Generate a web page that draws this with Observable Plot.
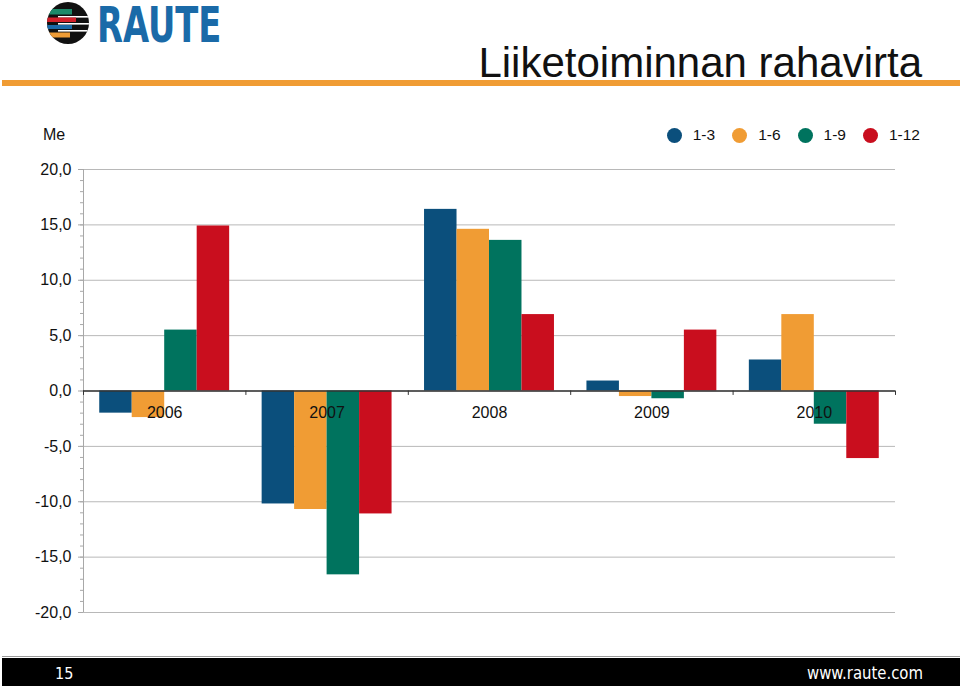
<!DOCTYPE html>
<html>
<head>
<meta charset="utf-8">
<script src="https://cdn.jsdelivr.net/npm/d3@7"></script>
<script src="https://cdn.jsdelivr.net/npm/@observablehq/plot@0.6"></script>
<style>
  html, body { margin: 0; padding: 0; background: #fff; }
  #page { position: relative; width: 960px; height: 686px; overflow: hidden; background: #fff;
          font-family: "Liberation Sans", Arial, sans-serif; color: #111; }
  #header { position: absolute; left: 0; top: 0; }
  #brand { position: absolute; left: 97px; top: -3px; font-family: "DejaVu Sans Condensed", "DejaVu Sans", sans-serif;
           font-weight: bold; font-size: 50px; line-height: 56px; color: #1a6aa8; white-space: nowrap;
           transform: scaleX(0.75); transform-origin: 0 0; }
  #me { position: absolute; left: 43px; top: 126px; font-size: 16px; line-height: 18px; }
  #legend { position: absolute; top: 126px; right: 40px; display: flex; align-items: center; font-size: 15.5px; line-height: 18px; }
  #legend .sw { width: 15px; height: 15px; border-radius: 50%; margin-right: 11px; }
  #legend .lb { margin-right: 17px; }
  #legend .lb:last-child { margin-right: 0; }
  #chart { position: absolute; left: 0; top: 150px; }
  #footer { position: absolute; left: 0; top: 656px; }
</style>
</head>
<body>
<div id="page">
  <svg id="header" width="960" height="100" viewBox="0 0 960 100">
    <defs><clipPath id="logoClip"><circle cx="68" cy="23" r="21"></circle></clipPath></defs>
    <g clip-path="url(#logoClip)">
      <rect x="46" y="1" width="44" height="44" fill="#111"></rect>
      <rect x="58" y="16" width="32" height="1.6" fill="#fff"></rect>
      <rect x="58" y="23" width="32" height="1.6" fill="#fff"></rect>
      <rect x="58" y="30" width="32" height="1.6" fill="#fff"></rect>
      <rect x="46" y="9" width="26" height="5.5" fill="#1d8a6a"></rect>
      <rect x="46" y="17.5" width="30" height="4.5" fill="#d3202a"></rect>
      <rect x="46" y="25" width="26" height="4" fill="#1a6aa8"></rect>
      <rect x="46" y="32.5" width="24" height="5" fill="#ee9c36"></rect>
    </g>
    <rect x="2" y="80" width="958" height="6" fill="#f09c34"></rect>
    <text x="922" y="77" text-anchor="end" font-family="'Liberation Sans', Arial, sans-serif" font-size="42" fill="#111">Liiketoiminnan rahavirta</text>
  </svg>
  <div id="brand">RAUTE</div>
  <div id="me">Me</div>
  <div id="legend"></div>
  <div id="chart"></div>
  <svg id="footer" width="960" height="30" viewBox="0 0 960 30">
    <rect x="2" y="0" width="958" height="1" fill="#9a9a9a"></rect>
    <rect x="2" y="2" width="958" height="28" fill="#000"></rect>
    <text x="55" y="23" font-family="'Liberation Sans Narrow', 'DejaVu Sans Condensed', sans-serif" font-size="16" fill="#fff">15</text>
    <text x="923" y="23" text-anchor="end" font-family="'Liberation Sans Narrow', 'DejaVu Sans Condensed', sans-serif" font-size="17" fill="#fff" textLength="116" lengthAdjust="spacingAndGlyphs">www.raute.com</text>
  </svg>
</div>
<script>
// ---- Data, Me ----
const years = ["2006", "2007", "2008", "2009", "2010"];
const series = ["1-3", "1-6", "1-9", "1-12"];
const colors = ["#0b4f7c", "#f09c34", "#00735e", "#c90e1e"];
const q1_3  = [-2.0, -10.2, 16.4,  0.9,  2.8];
const q1_6  = [-2.4, -10.7, 14.6, -0.5,  6.9];
const q1_9  = [ 5.5, -16.6, 13.6, -0.7, -3.0];
const q1_12 = [14.9, -11.1,  6.9,  5.5, -6.1];
const yTicks = [-20, -15, -10, -5, 0, 5, 10, 15, 20];
const yMinorTicks = d3.range(-20, 21, 1);

// ---- Table built from the arrays ----
const valuesBySeries = [q1_3, q1_6, q1_9, q1_12];
const rows = years.flatMap((year, yi) =>
  series.map((s, si) => ({year, yi, series: s, si, value: valuesBySeries[si][yi]}))
);
// each year occupies 5 slots on a linear x: half-slot gap, 4 bars, half-slot gap
const slotsPerYear = series.length + 1;
const groupStart = yi => yi * slotsPerYear;
const boundaries = d3.range(years.length + 1).map(groupStart);

// ---- Legend ----
const legend = document.getElementById("legend");
series.forEach((s, i) => {
  const sw = document.createElement("span"); sw.className = "sw"; sw.style.background = colors[i];
  const lb = document.createElement("span"); lb.className = "lb"; lb.textContent = s;
  legend.append(sw, lb);
});

const fmt = d => d.toFixed(1).replace(".", ",");

const chart = Plot.plot({
  width: 960,
  height: 490,
  marginLeft: 83,
  marginRight: 65,
  marginTop: 19,
  marginBottom: 28,
  style: {fontFamily: "'Liberation Sans', Arial, sans-serif", fontSize: "16px", color: "#111", background: "transparent", overflow: "visible"},
  x: {domain: [0, years.length * slotsPerYear], axis: null},
  y: {domain: [-20, 20], label: null},
  color: {domain: series, range: colors},
  marks: [
    Plot.gridY(yTicks, {stroke: "#b8b8b8", strokeOpacity: 1, strokeWidth: 1}),
    Plot.rectY(rows, {
      x1: d => groupStart(d.yi) + 0.5 + d.si,
      x2: d => groupStart(d.yi) + 1.5 + d.si,
      y1: 0,
      y2: "value",
      fill: "series"
    }),
    Plot.ruleX([0], {stroke: "#a8a8a8", strokeWidth: 1}),
    Plot.axisY(yMinorTicks, {tickSize: 3, tickFormat: () => "", stroke: "#a8a8a8", label: null}),
    Plot.axisY(yTicks, {tickSize: 5, tickFormat: () => "", stroke: "#a8a8a8", label: null}),
    Plot.axisY(yTicks, {tickSize: 0, tickPadding: 12, tickFormat: fmt, fill: "#111", fontSize: 16, label: null}),
    Plot.ruleY([0], {stroke: "#333", strokeWidth: 1.5}),
    Plot.ruleX(boundaries, {x: d => d, y1: 0, y2: -0.4, stroke: "#333", strokeWidth: 1}),
    Plot.text(years, {x: (d, i) => groupStart(i) + slotsPerYear / 2, y: 0, dy: 22, text: d => d, fill: "#111", fontSize: 16})
  ]
});
document.getElementById("chart").append(chart);
</script>
</body>
</html>
